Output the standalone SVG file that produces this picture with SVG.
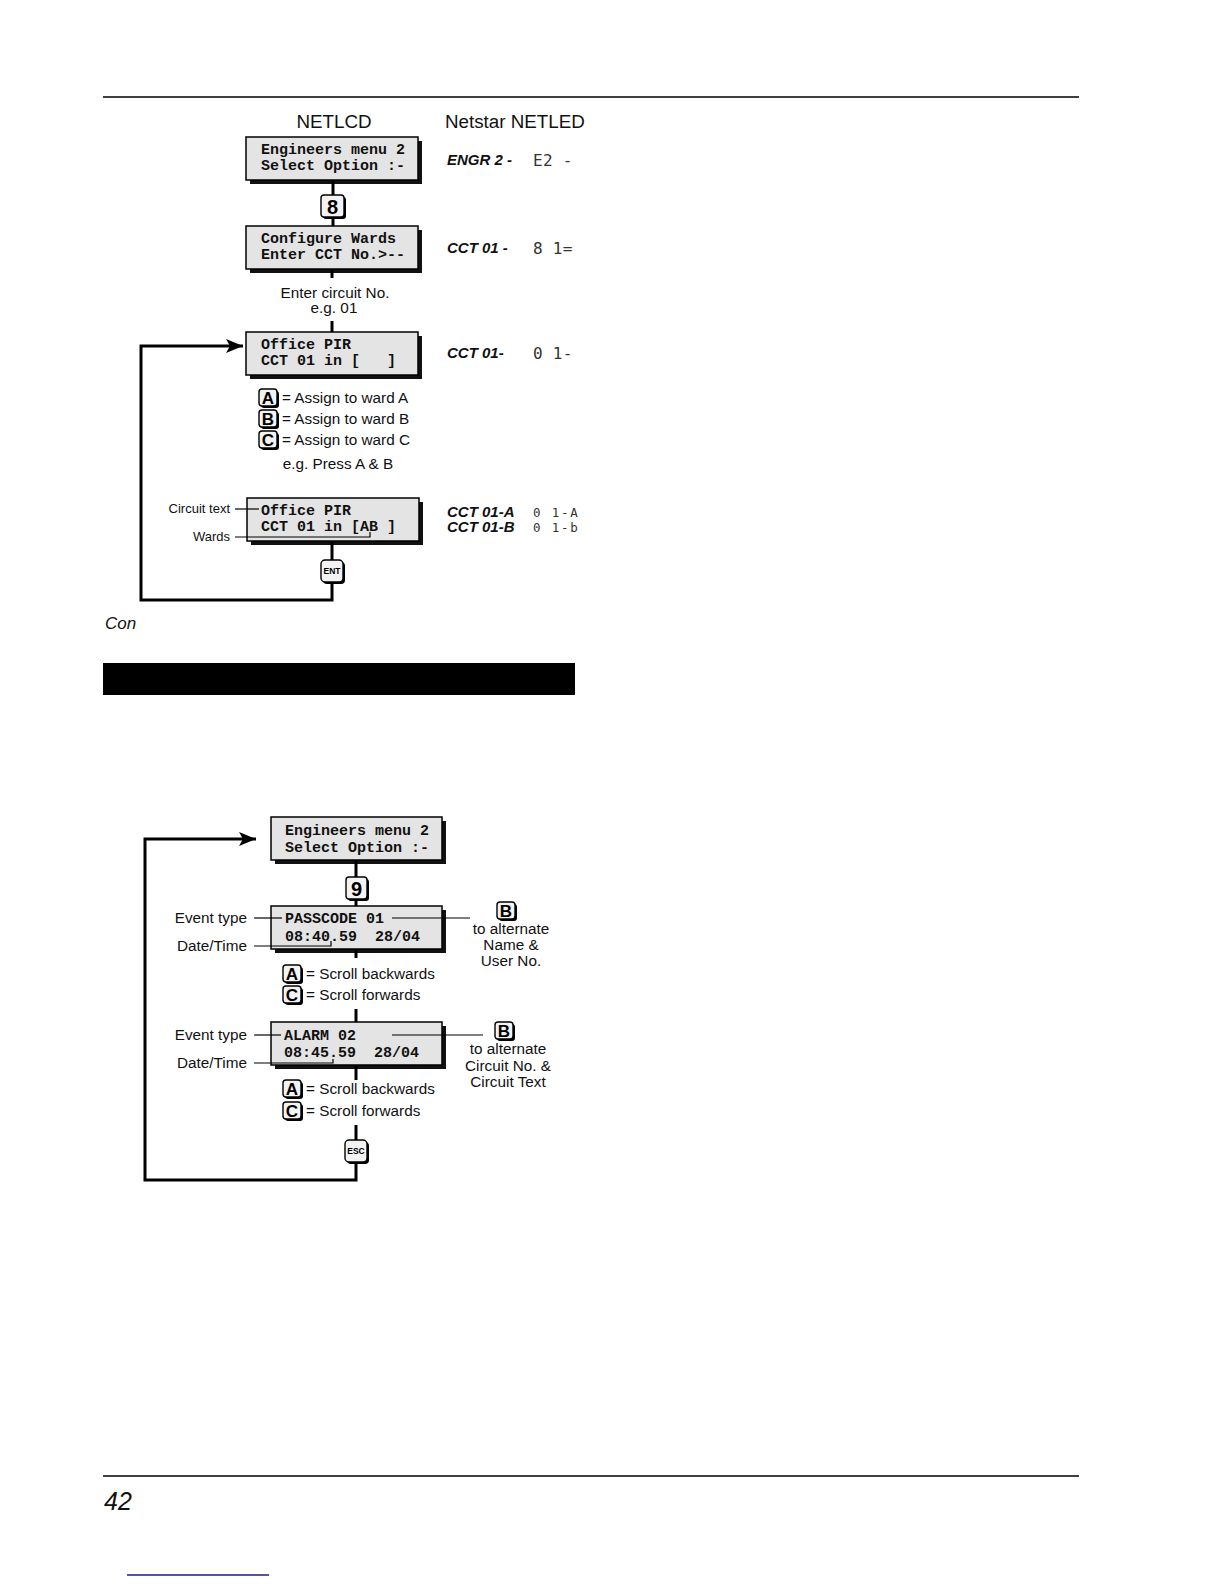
<svg xmlns="http://www.w3.org/2000/svg" width="1224" height="1584" viewBox="0 0 1224 1584">
<style>
.bg{fill:#fff}
.lcd{fill:#e4e4e4;stroke:#000;stroke-width:1.5}
.sh{fill:#111}
.mono{font-family:"Liberation Mono","Courier New",monospace;font-weight:bold;font-size:15px;fill:#111}
.sans{font-family:"Liberation Sans",Arial,sans-serif;fill:#111}
.t15{font-size:15.3px}
.t13{font-size:13px}
.t18{font-size:18.8px}
.led{font-family:"Liberation Sans",Arial,sans-serif;font-size:15px;font-weight:bold;font-style:italic;fill:#111}
.seg{font-family:"DejaVu Sans Mono",monospace;font-size:16px;fill:#333;letter-spacing:0.3px}
.seg2{font-family:"DejaVu Sans Mono",monospace;font-size:12.5px;fill:#333;letter-spacing:1.8px}
.conn{stroke:#000;stroke-width:3;fill:none}
.lead{stroke:#000;stroke-width:1.2;fill:none}
.rule{stroke:#000;stroke-width:1.5}
.key{fill:#f3f3f3;stroke:#000;stroke-width:1.4}
.ksh{fill:#000}
.kl{font-family:"Liberation Sans",Arial,sans-serif;font-weight:bold;fill:#000;text-anchor:middle}
.mid{text-anchor:middle}
.end{text-anchor:end}
</style>
<defs>
<marker id="arr" markerUnits="userSpaceOnUse" markerWidth="18" markerHeight="14" refX="17" refY="7" orient="auto">
<path d="M0,0 L17,7 L0,14 L4,7 Z" fill="#000"/>
</marker>
</defs>
<rect class="bg" x="0" y="0" width="1224" height="1584"/>

<!-- page furniture -->
<g id="page">
<line class="rule" x1="103" y1="97" x2="1079" y2="97"/>
<text class="sans" x="105" y="629" font-size="17" font-style="italic">Con</text>
<rect x="103" y="663" width="472" height="32" fill="#000"/>
<line class="rule" x1="103" y1="1476" x2="1079" y2="1476"/>
<text class="sans" x="104" y="1510" font-size="25" font-style="italic">42</text>
<line x1="127" y1="1575" x2="269" y2="1575" stroke="#1a1a8a" stroke-width="1.5"/>
</g>

<!-- headers -->
<g id="headers">
<text class="sans t18 mid" x="334" y="128">NETLCD</text>
<text class="sans t18" x="445" y="128">Netstar NETLED</text>
</g>

<!-- section 1 nodes -->
<g id="n-engmenu1">
<rect class="sh" x="250" y="141" width="172" height="43"/>
<rect class="lcd" x="246" y="137" width="172" height="43"/>
<text class="mono" x="261" y="154">Engineers menu 2</text>
<text class="mono" x="261" y="170">Select Option :-</text>
</g>
<g id="key8">
<rect class="ksh" x="323" y="197" width="23" height="22" rx="3"/>
<rect class="key" x="321" y="195" width="23" height="22" rx="3"/>
<text class="kl" x="332.5" y="214" font-size="20">8</text>
</g>
<g id="n-configwards">
<rect class="sh" x="250" y="230" width="172" height="43"/>
<rect class="lcd" x="246" y="226" width="172" height="43"/>
<text class="mono" x="261" y="243">Configure Wards</text>
<text class="mono" x="261" y="259">Enter CCT No.&gt;--</text>
</g>
<g id="t-entercct">
<text class="sans t15 mid" x="335" y="298">Enter circuit No.</text>
<text class="sans t15 mid" x="334" y="313">e.g. 01</text>
</g>
<g id="n-officepir1">
<rect class="sh" x="250" y="336" width="172" height="43"/>
<rect class="lcd" x="246" y="332" width="172" height="43"/>
<text class="mono" x="261" y="349">Office PIR</text>
<text class="mono" x="261" y="365" xml:space="preserve">CCT 01 in [   ]</text>
</g>
<g id="keys-abc">
<rect class="ksh" x="261" y="391" width="18" height="17" rx="3"/>
<rect class="key" x="259" y="389" width="18" height="17" rx="3"/>
<text class="kl" x="268" y="404" font-size="17">A</text>
<text class="sans t15" x="282" y="403">= Assign to ward A</text>
<rect class="ksh" x="261" y="412" width="18" height="17" rx="3"/>
<rect class="key" x="259" y="410" width="18" height="17" rx="3"/>
<text class="kl" x="268" y="425" font-size="17">B</text>
<text class="sans t15" x="282" y="424">= Assign to ward B</text>
<rect class="ksh" x="261" y="433" width="18" height="17" rx="3"/>
<rect class="key" x="259" y="431" width="18" height="17" rx="3"/>
<text class="kl" x="268" y="446" font-size="17">C</text>
<text class="sans t15" x="282" y="445">= Assign to ward C</text>
<text class="sans t15 mid" x="338" y="469">e.g. Press A &amp; B</text>
</g>
<g id="n-officepir2">
<rect class="sh" x="251" y="502" width="172" height="43"/>
<rect class="lcd" x="247" y="498" width="172" height="43"/>
<text class="mono" x="261" y="515">Office PIR</text>
<text class="mono" x="261" y="531" xml:space="preserve">CCT 01 in [AB ]</text>
<text class="sans t13 end" x="230" y="513">Circuit text</text>
<text class="sans t13 end" x="230" y="541">Wards</text>
</g>
<g id="key-ent">
<rect class="ksh" x="323" y="562" width="22" height="22" rx="4"/>
<rect class="key" x="321" y="560" width="22" height="22" rx="4"/>
<text class="kl" x="332" y="574" font-size="8.5">ENT</text>
</g>

<!-- LED column -->
<g id="led">
<text class="led" x="447" y="165">ENGR 2 -</text>
<text class="seg" x="533" y="166">E2 -</text>
<text class="led" x="447" y="253">CCT 01 -</text>
<text class="seg" x="533" y="254">8 1=</text>
<text class="led" x="447" y="358">CCT 01-</text>
<text class="seg" x="533" y="359">0 1-</text>
<text class="led" x="447" y="517">CCT 01-A</text>
<text class="seg2" x="533" y="517">0 1-A</text>
<text class="led" x="447" y="532">CCT 01-B</text>
<text class="seg2" x="533" y="532">0 1-b</text>
</g>

<!-- section 2 nodes -->
<g id="n-engmenu2">
<rect class="sh" x="275" y="821" width="171" height="43"/>
<rect class="lcd" x="271" y="817" width="171" height="43"/>
<text class="mono" x="285" y="835">Engineers menu 2</text>
<text class="mono" x="285" y="852">Select Option :-</text>
</g>
<g id="key9">
<rect class="ksh" x="348" y="879" width="21" height="22" rx="3"/>
<rect class="key" x="346" y="877" width="21" height="22" rx="3"/>
<text class="kl" x="356.5" y="896" font-size="20">9</text>
</g>
<g id="n-passcode">
<rect class="sh" x="275" y="910" width="171" height="43"/>
<rect class="lcd" x="271" y="906" width="171" height="43"/>
<text class="mono" x="285" y="923">PASSCODE 01</text>
<text class="mono" x="285" y="941" xml:space="preserve">08:40.59  28/04</text>
<text class="sans t15 end" x="247" y="923">Event type</text>
<text class="sans t15 end" x="247" y="951">Date/Time</text>
</g>
<g id="b-passcode">
<rect class="ksh" x="499" y="904" width="18" height="17" rx="3"/>
<rect class="key" x="497" y="902" width="18" height="17" rx="3"/>
<text class="kl" x="506" y="917" font-size="17">B</text>
<text class="sans t15 mid" x="511" y="934">to alternate</text>
<text class="sans t15 mid" x="511" y="950">Name &amp;</text>
<text class="sans t15 mid" x="511" y="966">User No.</text>
</g>
<g id="keys-ac-1">
<rect class="ksh" x="285" y="967" width="18" height="17" rx="3"/>
<rect class="key" x="283" y="965" width="18" height="17" rx="3"/>
<text class="kl" x="292" y="980" font-size="17">A</text>
<text class="sans t15" x="306" y="979">= Scroll backwards</text>
<rect class="ksh" x="285" y="988" width="18" height="17" rx="3"/>
<rect class="key" x="283" y="986" width="18" height="17" rx="3"/>
<text class="kl" x="292" y="1001" font-size="17">C</text>
<text class="sans t15" x="306" y="1000">= Scroll forwards</text>
</g>
<g id="n-alarm">
<rect class="sh" x="275" y="1026" width="171" height="43"/>
<rect class="lcd" x="271" y="1022" width="171" height="43"/>
<text class="mono" x="284" y="1040">ALARM 02</text>
<text class="mono" x="284" y="1057" xml:space="preserve">08:45.59  28/04</text>
<text class="sans t15 end" x="247" y="1040">Event type</text>
<text class="sans t15 end" x="247" y="1068">Date/Time</text>
</g>
<g id="b-alarm">
<rect class="ksh" x="497" y="1024" width="18" height="17" rx="3"/>
<rect class="key" x="495" y="1022" width="18" height="17" rx="3"/>
<text class="kl" x="504" y="1037" font-size="17">B</text>
<text class="sans t15 mid" x="508" y="1054">to alternate</text>
<text class="sans t15 mid" x="508" y="1071">Circuit No. &amp;</text>
<text class="sans t15 mid" x="508" y="1087">Circuit Text</text>
</g>
<g id="keys-ac-2">
<rect class="ksh" x="285" y="1082" width="18" height="17" rx="3"/>
<rect class="key" x="283" y="1080" width="18" height="17" rx="3"/>
<text class="kl" x="292" y="1095" font-size="17">A</text>
<text class="sans t15" x="306" y="1094">= Scroll backwards</text>
<rect class="ksh" x="285" y="1104" width="18" height="17" rx="3"/>
<rect class="key" x="283" y="1102" width="18" height="17" rx="3"/>
<text class="kl" x="292" y="1117" font-size="17">C</text>
<text class="sans t15" x="306" y="1116">= Scroll forwards</text>
</g>
<g id="key-esc">
<rect class="ksh" x="347" y="1142" width="22" height="22" rx="4"/>
<rect class="key" x="345" y="1140" width="22" height="22" rx="4"/>
<text class="kl" x="356" y="1154" font-size="8.5">ESC</text>
</g>

<!-- connectors -->
<g id="connectors">
<line class="conn" x1="333" y1="181" x2="333" y2="195"/>
<line class="conn" x1="333" y1="217" x2="333" y2="226"/>
<line class="conn" x1="332" y1="270" x2="332" y2="278"/>
<line class="conn" x1="332" y1="321" x2="332" y2="332"/>
<line class="conn" x1="332" y1="542" x2="332" y2="560"/>
<polyline class="conn" points="332,582 332,600 141,600 141,346 243,346" marker-end="url(#arr)"/>
<line class="lead" x1="235" y1="509" x2="259" y2="509"/>
<polyline class="lead" points="235,537 370,537 370,532"/>

<line class="conn" x1="356" y1="860" x2="356" y2="877"/>
<line class="conn" x1="356" y1="899" x2="356" y2="906"/>
<line class="conn" x1="356" y1="950" x2="356" y2="958"/>
<line class="conn" x1="356" y1="1009" x2="356" y2="1022"/>
<line class="conn" x1="356" y1="1066" x2="356" y2="1080"/>
<line class="conn" x1="356" y1="1125" x2="356" y2="1140"/>
<polyline class="conn" points="356,1162 356,1180 145,1180 145,839 256,839" marker-end="url(#arr)"/>
<line class="lead" x1="254" y1="918" x2="282" y2="918"/>
<line class="lead" x1="392" y1="918" x2="470" y2="918"/>
<polyline class="lead" points="254,946 331,946 331,941"/>
<line class="lead" x1="254" y1="1035" x2="281" y2="1035"/>
<line class="lead" x1="392" y1="1035" x2="483" y2="1035"/>
<polyline class="lead" points="254,1063 333,1063 333,1059"/>
</g>
</svg>
